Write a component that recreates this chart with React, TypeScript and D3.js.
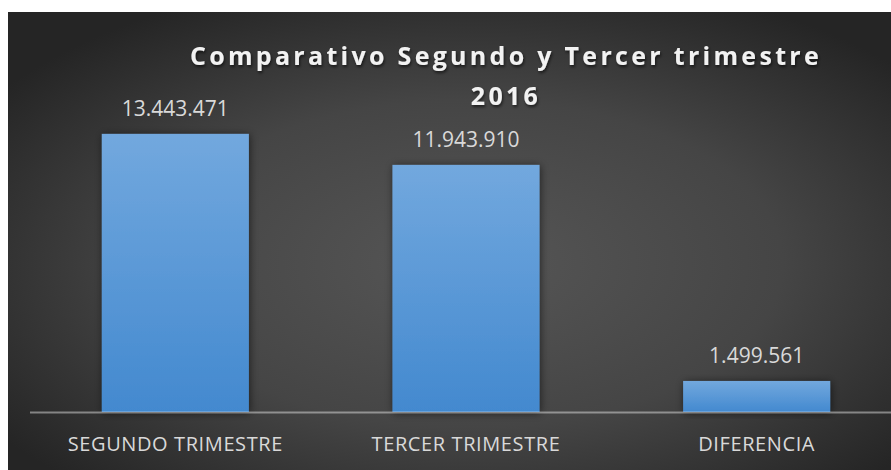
import React from "react";
import * as d3 from "d3";

const categories = ["SEGUNDO TRIMESTRE", "TERCER TRIMESTRE", "DIFERENCIA"];
const values = [13443471, 11943910, 1499561];
const valueLabels = ["13.443.471", "11.943.910", "1.499.561"];
const titleLines = ["Comparativo Segundo y Tercer trimestre", "2016"];

const W = 891;
const H = 470;

export default function App() {
  const x = d3
    .scaleBand<string>()
    .domain(categories)
    .range([30, 902])
    .paddingInner(0.494)
    .paddingOuter(0.247);
  const y = d3.scaleLinear().domain([0, 16000000]).range([412, 81]);

  return (
    <svg
      width={W}
      height={H}
      style={{ position: "fixed", left: 0, top: 0, display: "block" }}
    >
      <defs>
        <radialGradient id="bg" cx="0.52" cy="0.55" r="0.65" fx="0.52" fy="0.55">
          <stop offset="0" stopColor="#565656" />
          <stop offset="0.55" stopColor="#454545" />
          <stop offset="1" stopColor="#252525" />
        </radialGradient>
        <linearGradient id="bar" x1="0" y1="0" x2="0" y2="1">
          <stop offset="0" stopColor="#72a8de" />
          <stop offset="1" stopColor="#4389cf" />
        </linearGradient>
        <filter id="shadow" x="-20%" y="-20%" width="140%" height="140%">
          <feDropShadow dx="1" dy="1" stdDeviation="4" floodColor="#000" floodOpacity="0.55" />
        </filter>
        <filter id="tshadow" x="-10%" y="-30%" width="120%" height="160%">
          <feDropShadow dx="1" dy="2" stdDeviation="1.5" floodColor="#000" floodOpacity="0.6" />
        </filter>
      </defs>
      <rect x={0} y={0} width={W} height={H} fill="#ffffff" />
      <rect x={8} y={12} width={W - 8} height={H - 12} fill="url(#bg)" />

      <g fontFamily="'Open Sans', sans-serif" fill="#f2f2f2" fontWeight="bold" fontSize={25} letterSpacing={3.3} textAnchor="middle" filter="url(#tshadow)">
        {titleLines.map((t, i) => (
          <text key={i} x={506} y={64.5 + i * 40}>
            {t}
          </text>
        ))}
      </g>

      {categories.map((c, i) => (
        <rect
          key={c}
          x={x(c)}
          y={y(values[i])}
          width={x.bandwidth()}
          height={y(0) - y(values[i])}
          fill="url(#bar)"
          filter="url(#shadow)"
        />
      ))}

      <line x1={30} x2={W} y1={412.5} y2={412.5} stroke="#ffffff" strokeOpacity={0.42} strokeWidth={2.2} />

      <g fontFamily="'Open Sans', sans-serif" fill="#d9d9d9" fontSize={21} textAnchor="middle">
        {categories.map((c, i) => (
          <text key={c} x={x(c)! + x.bandwidth() / 2} y={y(values[i]) - 17.5}>
            {valueLabels[i]}
          </text>
        ))}
      </g>

      <g fontFamily="'Open Sans', sans-serif" fill="#d9d9d9" fontSize={20} letterSpacing={0.6} textAnchor="middle">
        {categories.map((c) => (
          <text key={c} x={x(c)! + x.bandwidth() / 2} y={451}>
            {c}
          </text>
        ))}
      </g>
    </svg>
  );
}
